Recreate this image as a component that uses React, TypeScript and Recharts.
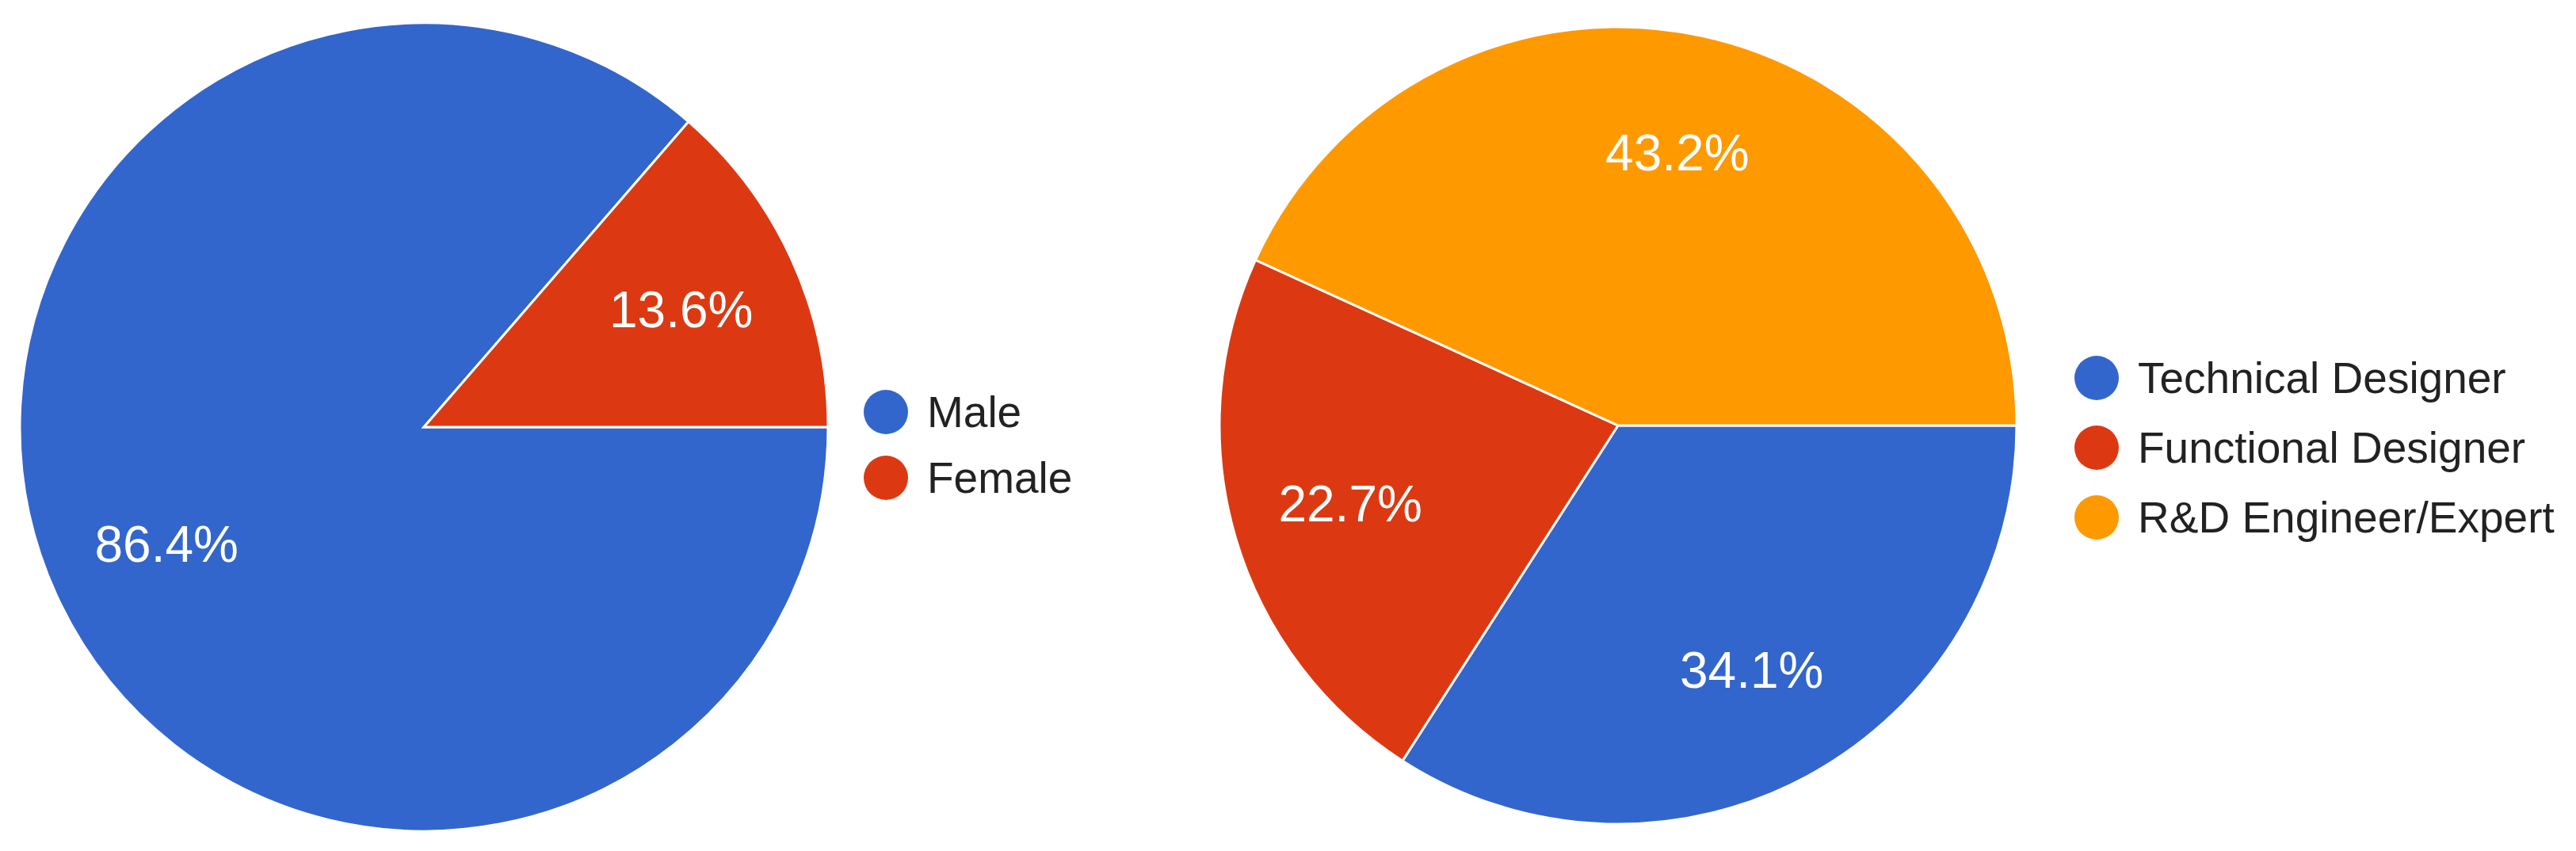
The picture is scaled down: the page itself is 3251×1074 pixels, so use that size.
import { PieChart, Pie, Cell, Legend } from "recharts";

// respondents (n = 44)
const genderNames = ["Male", "Female"];
const genderCounts = [38, 6];

const roleNames = ["Technical Designer", "Functional Designer", "R&D Engineer/Expert"];
const roleCounts = [15, 10, 19];

const genderColors = ["#3366CC", "#DC3912"];
const roleColors = ["#3366CC", "#DC3912", "#FF9900"];

const FONT = "Arial, 'Liberation Sans', sans-serif";
const RADIAN = Math.PI / 180;

const genderData = genderNames.map((name, i) => ({ name, value: genderCounts[i] }));
const roleData = roleNames.map((name, i) => ({ name, value: roleCounts[i] }));

const renderPercent = (props: any) => {
  const { cx, cy, midAngle, outerRadius, percent } = props;
  const r = outerRadius * 0.7;
  const x = cx + r * Math.cos(-midAngle * RADIAN);
  const y = cy + r * Math.sin(-midAngle * RADIAN);
  return (
    <text
      x={x}
      y={y}
      fill="#ffffff"
      textAnchor="middle"
      dominantBaseline="central"
      fontSize={64}
      fontFamily={FONT}
    >
      {(percent * 100).toFixed(1)}%
    </text>
  );
};

// keep legend in data order (recharts sorts by value otherwise)
function makeLegend(names: string[], rowHeight: number) {
  return (props: any) => {
    const payload = [...(props.payload || [])].sort(
      (a: any, b: any) => names.indexOf(a.value) - names.indexOf(b.value),
    );
    return (
      <div style={{ fontFamily: FONT, fontSize: 55, color: "#222222" }}>
        {payload.map((entry: any) => (
          <div
            key={entry.value}
            style={{ display: "flex", alignItems: "center", height: rowHeight, whiteSpace: "nowrap" }}
          >
            <svg width={56} height={56} style={{ marginRight: 24 }}>
              <circle cx={28} cy={28} r={28} fill={entry.color} />
            </svg>
            <span>{entry.value}</span>
          </div>
        ))}
      </div>
    );
  };
}

export default function App() {
  return (
    <div
      style={{
        position: "absolute",
        left: 0,
        top: 0,
        width: 3251,
        height: 1074,
        background: "#ffffff",
        overflow: "hidden",
      }}
    >
      <div style={{ position: "absolute", left: 0, top: 0 }}>
        <PieChart width={1400} height={1074} margin={{ top: 0, right: 0, bottom: 0, left: 0 }}>
          <Pie
            data={genderData}
            dataKey="value"
            nameKey="name"
            cx={535}
            cy={539}
            outerRadius={510}
            startAngle={0}
            endAngle={-360}
            stroke="#ffffff"
            strokeWidth={3}
            label={renderPercent}
            labelLine={false}
            isAnimationActive={false}
          >
            {genderData.map((d, i) => (
              <Cell key={d.name} fill={genderColors[i]} />
            ))}
          </Pie>
          <Legend
            layout="vertical"
            align="right"
            verticalAlign="middle"
            content={makeLegend(genderNames, 83)}
            wrapperStyle={{ left: 1090, top: 478, right: "auto", width: 300 }}
          />
        </PieChart>
      </div>
      <div style={{ position: "absolute", left: 1400, top: 0 }}>
        <PieChart width={1851} height={1074} margin={{ top: 0, right: 0, bottom: 0, left: 0 }}>
          <Pie
            data={roleData}
            dataKey="value"
            nameKey="name"
            cx={642}
            cy={537}
            outerRadius={503}
            startAngle={0}
            endAngle={-360}
            stroke="#ffffff"
            strokeWidth={3}
            label={renderPercent}
            labelLine={false}
            isAnimationActive={false}
          >
            {roleData.map((d, i) => (
              <Cell key={d.name} fill={roleColors[i]} />
            ))}
          </Pie>
          <Legend
            layout="vertical"
            align="right"
            verticalAlign="middle"
            content={makeLegend(roleNames, 88)}
            wrapperStyle={{ left: 1218, top: 433, right: "auto", width: 620 }}
          />
        </PieChart>
      </div>
    </div>
  );
}
